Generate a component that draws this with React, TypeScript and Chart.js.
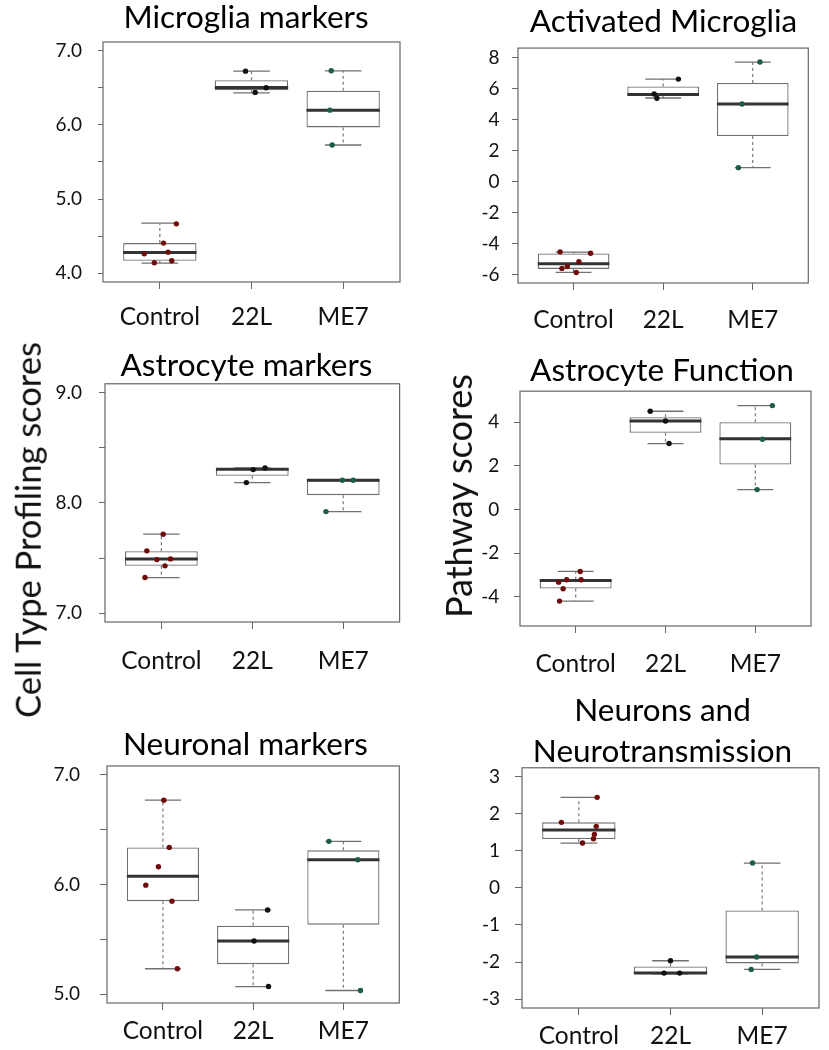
import React, { useEffect, useRef } from "react";
import { Chart, registerables } from "chart.js";

Chart.register(...registerables);

// ---------------- data ----------------
const groups = ["Control", "22L", "ME7"];

// five-number summaries per group: [lower whisker, Q1, median, Q3, upper whisker]
const microgliaStats = [
  [4.135, 4.167, 4.279, 4.405, 4.674],
  [6.434, 6.47, 6.506, 6.605, 6.726],
  [5.729, 5.967, 6.2, 6.461, 6.731],
];
const microgliaPoints = [
  [4.665, 4.405, 4.283, 4.261, 4.167, 4.14],
  [6.726, 6.502, 6.439],
  [6.731, 6.2, 5.729],
];
const microgliaJitter = [
  [0.18, 0.04, 0.09, -0.17, 0.13, -0.06],
  [-0.065, 0.16, 0.04],
  [-0.13, -0.145, -0.12],
];
const microgliaTicks = [4, 4.5, 5, 5.5, 6, 6.5, 7];
const microgliaTickLabels = ["4.0", "", "5.0", "", "6.0", "", "7.0"];

const activatedStats = [
  [-5.87, -5.64, -5.31, -4.65, -4.56],
  [5.38, 5.52, 5.61, 6.13, 6.6],
  [0.89, 2.93, 4.99, 6.35, 7.7],
];
const activatedPoints = [
  [-4.54, -4.63, -5.18, -5.49, -5.61, -5.87],
  [6.6, 5.64, 5.36],
  [7.7, 4.99, 0.89],
];
const activatedJitter = [
  [-0.15, 0.19, 0.06, -0.07, -0.13, 0.03],
  [0.17, -0.1, -0.07],
  [0.08, -0.12, -0.16],
];
const activatedTicks = [-6, -4, -2, 0, 2, 4, 6, 8];
const activatedTickLabels = ["-6", "-4", "-2", "0", "2", "4", "6", "8"];

const astroStats = [
  [7.323, 7.429, 7.492, 7.562, 7.716],
  [8.184, 8.245, 8.305, 8.311, 8.317],
  [7.921, 8.07, 8.205, 8.205, 8.21],
];
const astroPoints = [
  [7.716, 7.565, 7.486, 7.492, 7.429, 7.323],
  [8.317, 8.302, 8.184],
  [8.205, 8.205, 7.921],
];
const astroJitter = [
  [0.02, -0.16, -0.05, 0.1, 0.04, -0.18],
  [0.14, 0.01, -0.065],
  [-0.01, 0.11, -0.19],
];
const astroTicks = [7, 7.5, 8, 8.5, 9];
const astroTickLabels = ["7.0", "", "8.0", "", "9.0"];

const astroFnStats = [
  [-4.2, -3.62, -3.26, -3.22, -2.84],
  [3.02, 3.51, 4.05, 4.23, 4.5],
  [0.91, 2.06, 3.24, 4.0, 4.76],
];
const astroFnPoints = [
  [-2.84, -3.22, -3.22, -3.33, -3.63, -4.2],
  [4.5, 4.05, 3.02],
  [4.76, 3.22, 0.91],
];
const astroFnJitter = [
  [0.05, -0.1, 0.06, -0.19, -0.14, -0.18],
  [-0.17, 0.0, 0.04],
  [0.19, 0.08, 0.02],
];
const astroFnTicks = [-4, -2, 0, 2, 4];
const astroFnTickLabels = ["-4", "-2", "0", "2", "4"];

const neuronStats = [
  [5.232, 5.848, 6.076, 6.338, 6.768],
  [5.07, 5.274, 5.485, 5.625, 5.768],
  [5.034, 5.634, 6.226, 6.311, 6.393],
];
const neuronPoints = [
  [6.768, 6.338, 6.162, 5.994, 5.848, 5.232],
  [5.768, 5.485, 5.07],
  [6.393, 6.226, 5.034],
];
const neuronJitter = [
  [0.01, 0.07, -0.05, -0.19, 0.1, 0.16],
  [0.16, 0.01, 0.17],
  [-0.16, 0.16, 0.19],
];
const neuronTicks = [5, 5.5, 6, 6.5, 7];
const neuronTickLabels = ["5.0", "", "6.0", "", "7.0"];

const neuroTxStats = [
  [1.21, 1.318, 1.561, 1.768, 2.442],
  [-2.32, -2.316, -2.298, -2.118, -1.965],
  [-2.199, -2.037, -1.866, -0.607, 0.67],
];
const neuroTxPoints = [
  [2.442, 1.768, 1.66, 1.444, 1.327, 1.21],
  [-1.965, -2.298, -2.298],
  [0.67, -1.866, -2.199],
];
const neuroTxJitter = [
  [0.2, -0.19, 0.19, 0.17, 0.16, 0.04],
  [0.0, -0.07, 0.1],
  [-0.105, -0.06, -0.12],
];
const neuroTxTicks = [-3, -2, -1, 0, 1, 2, 3];
const neuroTxTickLabels = ["-3", "-2", "-1", "0", "1", "2", "3"];

// ---------------- styles ----------------
const FONT = "Lato, 'Open Sans', sans-serif";
const POINT_COLORS = ["#6e0c0c", "#111111", "#1d5b4a"];
const BOX_HALF = 0.4;
const CAP_HALF = 0.2;
const X_MIN = 0.38;
const X_MAX = 3.62;
const TITLE_SIZE = 31.5;
const TITLE_LH = 1.3;
const X_LABEL_SIZE = 24.5;
const Y_LABEL_SIZE = 19;

type Panel = {
  title: string | string[];
  stats: number[][];
  points: number[][];
  jitter: number[][];
  ticks: number[];
  tickLabels: string[];
  ymin: number;
  ymax: number;
  // geometry (page px)
  l: number; t: number; r: number; b: number;
  titleCX: number; titleMidY: number;
  yTickLen: number; yPad: number;
  xTickLen: number; xPad: number;
};

const panels: Panel[] = [
  {
    title: "Microglia markers", stats: microgliaStats, points: microgliaPoints, jitter: microgliaJitter,
    ticks: microgliaTicks, tickLabels: microgliaTickLabels, ymin: 3.88, ymax: 7.12,
    l: 103, t: 42, r: 400, b: 282, titleCX: 246, titleMidY: 17.5,
    yTickLen: 5, yPad: 16, xTickLen: 7, xPad: 13,
  },
  {
    title: "Activated Microglia", stats: activatedStats, points: activatedPoints, jitter: activatedJitter,
    ticks: activatedTicks, tickLabels: activatedTickLabels, ymin: -6.55, ymax: 8.6,
    l: 518.3, t: 48.3, r: 809, b: 283.3, titleCX: 664, titleMidY: 21.7,
    yTickLen: 6, yPad: 12.5, xTickLen: 7, xPad: 15,
  },
  {
    title: "Astrocyte markers", stats: astroStats, points: astroPoints, jitter: astroJitter,
    ticks: astroTicks, tickLabels: astroTickLabels, ymin: 6.92, ymax: 9.08,
    l: 105, t: 383.3, r: 400, b: 621.7, titleCX: 246.7, titleMidY: 365,
    yTickLen: 6, yPad: 17, xTickLen: 7, xPad: 17,
  },
  {
    title: "Astrocyte Function", stats: astroFnStats, points: astroFnPoints, jitter: astroFnJitter,
    ticks: astroFnTicks, tickLabels: astroFnTickLabels, ymin: -5.34, ymax: 5.42,
    l: 520, t: 390.7, r: 811, b: 626, titleCX: 662, titleMidY: 370,
    yTickLen: 6, yPad: 14.7, xTickLen: 7, xPad: 16,
  },
  {
    title: "Neuronal markers", stats: neuronStats, points: neuronPoints, jitter: neuronJitter,
    ticks: neuronTicks, tickLabels: neuronTickLabels, ymin: 4.92, ymax: 7.08,
    l: 107.3, t: 766, r: 400, b: 1002.7, titleCX: 246, titleMidY: 744.5,
    yTickLen: 7, yPad: 20, xTickLen: 7, xPad: 6,
  },
  {
    title: ["Neurons and", "Neurotransmission"], stats: neuroTxStats, points: neuroTxPoints, jitter: neuroTxJitter,
    ticks: neuroTxTicks, tickLabels: neuroTxTickLabels, ymin: -3.24, ymax: 3.24,
    l: 521.7, t: 767.3, r: 818.3, b: 1007.3, titleCX: 662, titleMidY: 710,
    yTickLen: 7, yPad: 15, xTickLen: 7, xPad: 6,
  },
];

const framePlugin = {
  id: "frame",
  afterDraw(chart: any) {
    const { ctx, chartArea } = chart;
    const { left, top, right, bottom } = chartArea;
    ctx.save();
    ctx.strokeStyle = "#666666";
    ctx.lineWidth = 1.2;
    ctx.strokeRect(left, top, right - left, bottom - top);
    ctx.restore();
  },
};

function geometry(p: Panel) {
  const LH = TITLE_SIZE * TITLE_LH;
  const nLines = Array.isArray(p.title) ? p.title.length : 1;
  const yW = 80;
  const cl = p.l - yW;
  // full-size title spans the whole canvas [cl, cr]; pick cr so it centres on titleCX
  const cr = Math.max(2 * p.titleCX - cl, p.r + 2);
  const rightW = cr - p.r; // empty right-hand axis keeps the plot's right edge in place
  const ct = p.titleMidY - LH / 2;
  const xH = 60;
  const cb = p.b + xH;
  const titlePadBottom = p.t - ct - nLines * LH;
  return { cl, ct, W: Math.round(cr - cl), H: Math.round(cb - ct), rightW, yW, xH, titlePadBottom };
}

function buildConfig(p: Panel, g: ReturnType<typeof geometry>) {
  const xs = groups.map((_, i) => i + 1);
  const GAP = { x: NaN, y: NaN };
  const boxes = p.stats.map((s, i) => ({ x: xs[i], y: [s[1], s[3]] }));
  const medians = p.stats.flatMap((s, i) => [
    { x: xs[i] - BOX_HALF, y: s[2] },
    { x: xs[i] + BOX_HALF, y: s[2] },
    GAP,
  ]);
  const stems = p.stats.flatMap((s, i) => [
    { x: xs[i], y: s[3] }, { x: xs[i], y: s[4] }, GAP,
    { x: xs[i], y: s[1] }, { x: xs[i], y: s[0] }, GAP,
  ]);
  const caps = p.stats.flatMap((s, i) => [
    { x: xs[i] - CAP_HALF, y: s[4] }, { x: xs[i] + CAP_HALF, y: s[4] }, GAP,
    { x: xs[i] - CAP_HALF, y: s[0] }, { x: xs[i] + CAP_HALF, y: s[0] }, GAP,
  ]);
  const pts: { x: number; y: number }[] = [];
  const ptColors: string[] = [];
  p.points.forEach((arr, i) =>
    arr.forEach((v, j) => {
      pts.push({ x: xs[i] + p.jitter[i][j], y: v });
      ptColors.push(POINT_COLORS[i]);
    })
  );

  return {
    type: "bar",
    data: {
      datasets: [
        {
          type: "bar",
          data: boxes,
          backgroundColor: "#ffffff",
          borderColor: "#707070",
          borderWidth: 1.3,
          borderSkipped: false,
          categoryPercentage: 2 * BOX_HALF,
          barPercentage: 1,
          order: 5,
        },
        {
          type: "line",
          data: stems,
          borderColor: "#777777",
          borderWidth: 1.2,
          borderDash: [3, 3],
          pointRadius: 0,
          spanGaps: false,
          fill: false,
          order: 4,
        },
        {
          type: "line",
          data: caps,
          borderColor: "#707070",
          borderWidth: 1.3,
          pointRadius: 0,
          spanGaps: false,
          fill: false,
          order: 3,
        },
        {
          type: "line",
          data: medians,
          borderColor: "#333333",
          borderWidth: 3,
          pointRadius: 0,
          spanGaps: false,
          fill: false,
          order: 2,
        },
        {
          type: "scatter",
          data: pts,
          pointBackgroundColor: ptColors,
          pointBorderColor: ptColors,
          pointRadius: 2.7,
          pointBorderWidth: 0,
          order: 1,
        },
      ],
    },
    options: {
      animation: false,
      responsive: false,
      devicePixelRatio: 1,
      events: [],
      layout: { padding: 0 },
      plugins: {
        legend: { display: false },
        tooltip: { enabled: false },
        title: {
          display: true,
          fullSize: true,
          text: p.title,
          color: "#000000",
          font: { family: FONT, size: TITLE_SIZE, weight: "normal", lineHeight: TITLE_LH },
          padding: { top: 0, bottom: g.titlePadBottom },
        },
      },
      scales: {
        x: {
          type: "linear",
          min: X_MIN,
          max: X_MAX,
          offset: false,
          afterBuildTicks: (axis: any) => {
            axis.ticks = xs.map((v) => ({ value: v }));
          },
          afterFit: (axis: any) => {
            axis.height = g.xH;
          },
          ticks: {
            callback: (_v: any, i: number) => groups[i],
            color: "#111111",
            font: { family: FONT, size: X_LABEL_SIZE },
            padding: p.xPad,
            autoSkip: false,
            maxRotation: 0,
          },
          grid: { drawOnChartArea: false, drawTicks: true, tickLength: p.xTickLen, tickColor: "#666666", offset: false },
          border: { display: false },
        },
        y: {
          type: "linear",
          position: "left",
          min: p.ymin,
          max: p.ymax,
          afterBuildTicks: (axis: any) => {
            axis.ticks = p.ticks.map((v) => ({ value: v }));
          },
          afterFit: (axis: any) => {
            axis.width = g.yW;
          },
          ticks: {
            callback: (_v: any, i: number) => p.tickLabels[i],
            color: "#111111",
            font: { family: FONT, size: Y_LABEL_SIZE },
            padding: p.yPad,
            autoSkip: false,
          },
          grid: { drawOnChartArea: false, drawTicks: true, tickLength: p.yTickLen, tickColor: "#666666" },
          border: { display: false },
        },
        yRight: {
          type: "linear",
          position: "right",
          display: true,
          min: p.ymin,
          max: p.ymax,
          afterFit: (axis: any) => {
            axis.width = g.rightW;
          },
          ticks: { display: false },
          grid: { display: false, drawTicks: false },
          border: { display: false },
        },
      },
    },
    plugins: [framePlugin],
  };
}

function BoxPanel({ p }: { p: Panel }) {
  const ref = useRef<HTMLCanvasElement | null>(null);
  const g = geometry(p);
  useEffect(() => {
    if (!ref.current) return;
    const chart = new Chart(ref.current, buildConfig(p, g) as any);
    return () => chart.destroy();
  }, []);
  return (
    <div style={{ position: "absolute", left: g.cl, top: g.ct, width: g.W, height: g.H }}>
      <canvas ref={ref} width={g.W} height={g.H} style={{ width: g.W, height: g.H, display: "block" }} />
    </div>
  );
}

const axisLabelStyle = (cx: number, cy: number, size: number): React.CSSProperties => ({
  position: "absolute",
  left: cx,
  top: cy,
  transform: "translate(-50%, -50%) rotate(-90deg)",
  whiteSpace: "nowrap",
  fontFamily: FONT,
  fontSize: size,
  color: "#111111",
  lineHeight: 1,
});

export default function App() {
  return (
    <div
      style={{
        position: "absolute",
        left: 0,
        top: 0,
        width: 829,
        height: 1050,
        overflow: "hidden",
        background: "#ffffff",
      }}
    >
      {panels.map((p, i) => (
        <BoxPanel key={i} p={p} />
      ))}
      <div style={axisLabelStyle(28, 530, 34.5)}>Cell Type Profiling scores</div>
      <div style={axisLabelStyle(458, 496, 36)}>Pathway scores</div>
    </div>
  );
}
